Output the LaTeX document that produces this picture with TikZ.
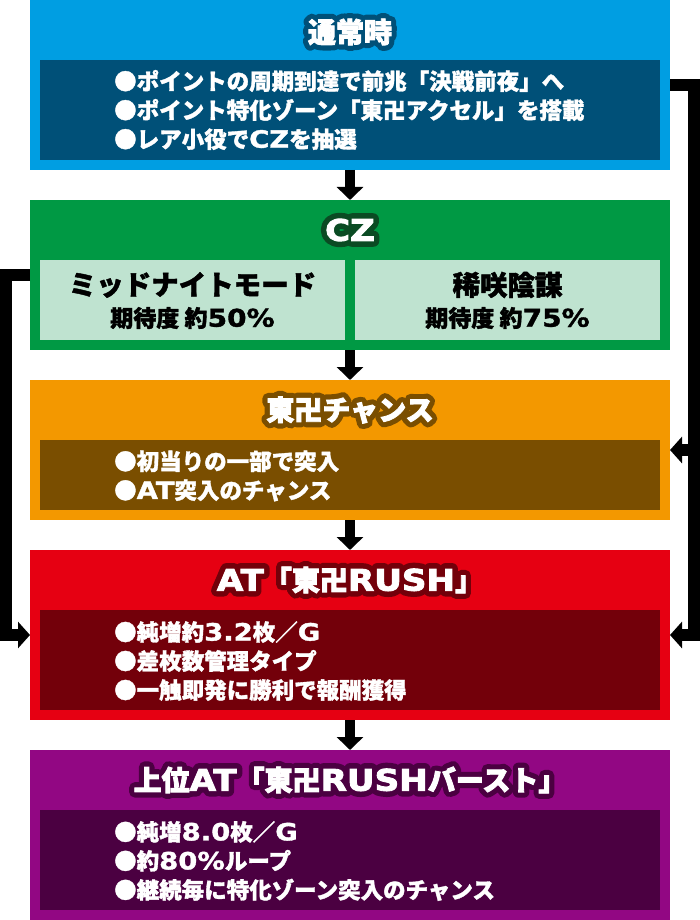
\documentclass[tikz,border=0pt]{standalone}
\usepackage{fontspec}
\setmainfont{Noto Sans CJK JP}[BoldFeatures={FakeBold=1.5}]
\newfontfamily\capfont{Noto Sans CJK JP}[BoldFeatures={FakeBold=3}]
\newfontfamily\rimfont{Noto Sans CJK JP}[BoldFeatures={FakeBold=40}]
\newfontfamily\latfont{DejaVu Sans}[Scale=1.06, FakeStretch=1.15, BoldFeatures={FakeBold=1.5}]
\newfontfamily\latcap{DejaVu Sans}[Scale=1.06, FakeStretch=1.15, BoldFeatures={FakeBold=3}]
\newfontfamily\latrim{DejaVu Sans}[Scale=1.06, FakeStretch=1.15, BoldFeatures={FakeBold=40}]
\let\latsel\latfont
\newcommand\lat[1]{{\latsel #1}}
\usetikzlibrary{calc,arrows.meta}
\definecolor{normalblue}{RGB}{0,158,226}
\definecolor{normaldark}{RGB}{0,80,120}
\definecolor{czgreen}{RGB}{0,153,68}
\definecolor{czlight}{RGB}{191,227,208}
\definecolor{czdark}{RGB}{10,75,35}
\definecolor{chanceorange}{RGB}{243,152,0}
\definecolor{chancedark}{RGB}{122,78,0}
\definecolor{rushred}{RGB}{230,0,18}
\definecolor{rushdark}{RGB}{115,0,10}
\definecolor{upperpurple}{RGB}{146,7,131}
\definecolor{upperdark}{RGB}{75,0,65}
\tikzset{
	stage/.style={rectangle, inner sep=0pt, outer sep=0pt, minimum width=640pt},
	panel/.style={rectangle, inner sep=0pt, outer sep=0pt, minimum width=620pt, minimum height=100pt},
	subpanel/.style={rectangle, inner sep=0pt, outer sep=0pt, fill=czlight, minimum width=305pt, minimum height=80pt},
	caption/.style={font=\capfont\bfseries\fontsize{28}{28}\selectfont\let\latsel\latcap, inner sep=0pt},
	rim/.style={font=\rimfont\bfseries\fontsize{28}{28}\selectfont\let\latsel\latrim, inner sep=0pt, line join=round},
	subcaption/.style={font=\bfseries\fontsize{27.5}{27.5}\selectfont, inner sep=0pt},
	subnote/.style={font=\bfseries\fontsize{23}{23}\selectfont, inner sep=0pt},
	bullets/.style={font=\bfseries\fontsize{22.5}{29}\selectfont, text=white, align=left, anchor=west, inner sep=0pt},
	flow/.style={line width=10pt, -{Triangle[width=26pt,length=13pt]}},
	rail/.style={line width=12pt, -{Triangle[width=26pt,length=12pt]}},
}
\def\outlined(#1)(#2)[#3]#4{%
	\node[rim, text=#3] (#1rim) at (#2) {#4};
	\node[caption, text=white] (#1) at (#2) {#4};
}

\begin{document}
\begin{tikzpicture}[x=1pt, y=-1pt]
			%%%%% START %%%%%
			\useasboundingbox (0,0) rectangle (700,920);
			
			% stages
			\node[stage, fill=normalblue, minimum height=170pt] (normal) at (350,85) {};
			\node[panel, fill=normaldark] (normalpanel) at (350,110) {};
			\outlined(normaltitle)(350,32)[normaldark]{通常時}
			\node[bullets] (normaltext) at (114,110) {●ポイントの周期到達で前兆「決戦前夜」へ\\●ポイント特化ゾーン「東卍アクセル」を搭載\\●レア小役で\lat{CZ}を抽選};
			
			\node[stage, fill=czgreen, minimum height=150pt] (cz) at (350,275) {};
			\outlined(cztitle)(350,230)[czdark]{\lat{CZ}}
			\node[subpanel] (midnight) at (192.5,300) {};
			\node[subcaption] (midnightname) at (192.5,285) {ミッドナイトモード};
			\node[subnote] (midnightrate) at (192.5,318) {期待度 約\lat{50\%}};
			\node[subpanel] (kisaki) at (507.5,300) {};
			\node[subcaption] (kisakiname) at (507.5,285) {稀咲陰謀};
			\node[subnote] (kisakirate) at (507.5,318) {期待度 約\lat{75\%}};
			
			\node[stage, fill=chanceorange, minimum height=140pt] (chance) at (350,450) {};
			\node[panel, fill=chancedark, minimum height=70pt] (chancepanel) at (350,475) {};
			\outlined(chancetitle)(350,410)[chancedark]{東卍チャンス}
			\node[bullets] (chancetext) at (114,476) {●初当りの一部で突入\\●\lat{AT}突入のチャンス};
			
			\node[stage, fill=rushred, minimum height=170pt] (rush) at (350,635) {};
			\node[panel, fill=rushdark] (rushpanel) at (350,660) {};
			\outlined(rushtitle)(350,580)[rushdark]{\lat{AT}「東卍\lat{RUSH}」}
			\node[bullets] (rushtext) at (114,661) {●純増約\lat{3.2}枚／\lat{G}\\●差枚数管理タイプ\\●一触即発に勝利で報酬獲得};
			
			\node[stage, fill=upperpurple, minimum height=170pt] (upper) at (350,835) {};
			\node[panel, fill=upperdark] (upperpanel) at (350,860) {};
			\outlined(uppertitle)(350,780)[upperdark]{上位\lat{AT}「東卍\lat{RUSH}バースト」}
			\node[bullets] (uppertext) at (114,861) {●純増\lat{8.0}枚／\lat{G}\\●約\lat{80\%}ループ\\●継続毎に特化ゾーン突入のチャンス};
			
			% arrows
			\draw[flow] (normal.south) -- (cz.north);
			\draw[flow] (cz.south) -- (chance.north);
			\draw[flow] (chance.south) -- (rush.north);
			\draw[flow] (rush.south) -- (upper.north);
			
			\coordinate (rrail) at (694,0);
			\coordinate (lrail) at (6,0);
			\draw[rail] (normal.east) -| (rrail |- rush.east) -- (rush.east);
			\draw[rail] (rrail |- chance.east) -- (chance.east);
			\draw[rail] (cz.west) -| (lrail |- rush.west) -- (rush.west);
			
			%%%%% END %%%%%
\end{tikzpicture}
\end{document}
